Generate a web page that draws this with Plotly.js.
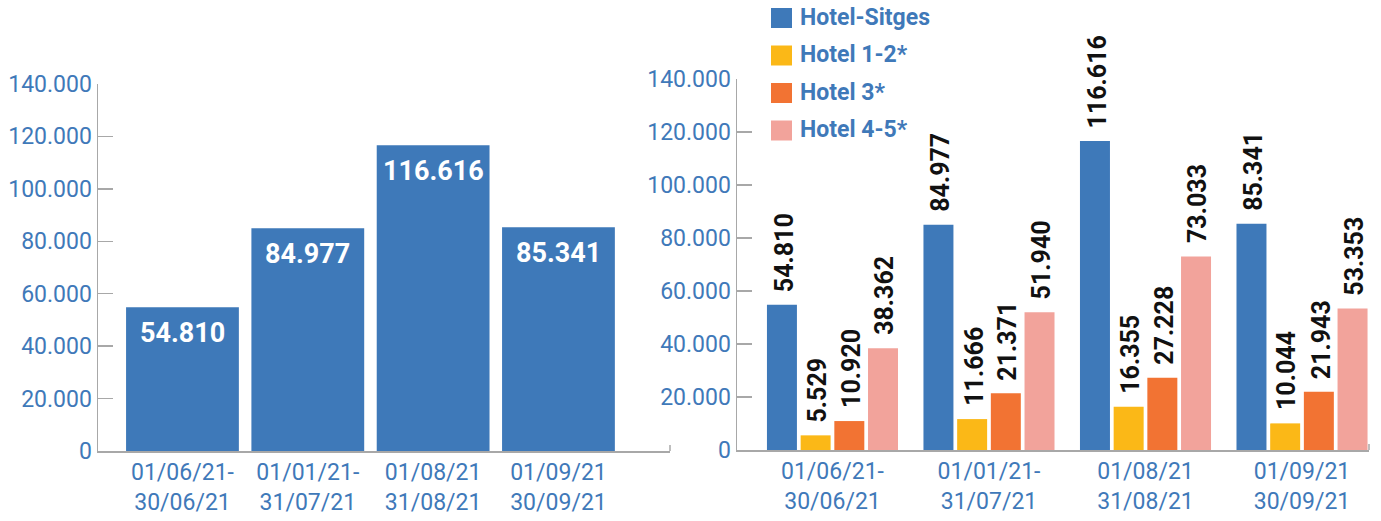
<!DOCTYPE html>
<html><head><meta charset="utf-8">
<script src="https://cdn.plot.ly/plotly-3.0.1.min.js"></script>
<style>html,body{margin:0;padding:0;background:#fff}#chart{width:1381px;height:521px}</style>
</head><body><div id="chart"></div>
<script>
// ---- data ----
const categories = ['01/06/21-<br>30/06/21', '01/01/21-<br>31/07/21', '01/08/21<br>31/08/21', '01/09/21<br>30/09/21'];
const totalValues = [54810, 84977, 116616, 85341];
const seriesNames = ['Hotel-Sitges', 'Hotel 1-2*', 'Hotel 3*', 'Hotel 4-5*'];
const hotelSitges = [54810, 84977, 116616, 85341];
const hotel12 = [5529, 11666, 16355, 10044];
const hotel3 = [10920, 21371, 27228, 21943];
const hotel45 = [38362, 51940, 73033, 53353];
const yTickVals = [0, 20000, 40000, 60000, 80000, 100000, 120000, 140000];

// ---- style ----
const W = 1381, H = 521;
const seriesColors = ['#3e79b9', '#fbb817', '#f27333', '#f2a39b'];
const blueText = '#3f79b9';
const axisGray = '#a8a8a8';
const FONT = 'Roboto, "Open Sans", sans-serif';
const BARGAP = 0.139, GROUPGAP = 0.11;

function fmt(v) { return String(v).replace(/\B(?=(\d{3})+(?!\d))/g, '.'); }

const seriesValues = [hotelSitges, hotel12, hotel3, hotel45];

const traces = [{
  type: 'bar', x: categories, y: totalValues, xaxis: 'x', yaxis: 'y',
  width: 0.9, offset: -0.45,
  marker: {color: seriesColors[0]}, showlegend: false, hoverinfo: 'skip'
}];
seriesValues.forEach((vals, j) => {
  traces.push({
    type: 'bar', name: seriesNames[j], x: categories, y: vals, xaxis: 'x2', yaxis: 'y2',
    marker: {color: seriesColors[j]}, showlegend: false, hoverinfo: 'skip'
  });
});

const annotations = [];
// left chart labels (inside bars)
totalValues.forEach((v, i) => {
  annotations.push({
    xref: 'x', yref: 'y', x: categories[i], y: v, yanchor: 'middle', yshift: -26,
    text: fmt(v), showarrow: false,
    font: {family: FONT, size: 27, color: '#ffffff', weight: 700}
  });
});
// right chart labels (rotated above bars)
const slot = (1 - BARGAP) / seriesValues.length;
seriesValues.forEach((vals, j) => {
  vals.forEach((v, i) => {
    annotations.push({
      xref: 'x2', yref: 'y2', x: i + (j - (seriesValues.length - 1) / 2) * slot, y: v,
      yanchor: 'bottom', xanchor: 'center', yshift: 11, xshift: 2, textangle: -90,
      text: fmt(v), showarrow: false,
      font: {family: FONT, size: 25, color: '#111111', weight: 700}
    });
  });
});
// legend
const legendTop = 18, legendStep = 37.5;
const shapes = [];
seriesNames.forEach((n, j) => {
  const yc = legendTop + j * legendStep;
  shapes.push({type: 'rect', xref: 'paper', yref: 'paper',
    x0: 771 / W, x1: 792 / W, y0: 1 - (yc + 10) / H, y1: 1 - (yc - 10) / H,
    fillcolor: seriesColors[j], line: {width: 0}});
  annotations.push({xref: 'paper', yref: 'paper', x: 798 / W, y: 1 - (yc - 1) / H,
    xanchor: 'left', yanchor: 'middle', text: n, showarrow: false,
    font: {family: FONT, size: 23, color: blueText, weight: 700}});
});
// end ticks on x axes
['x', 'x2'].forEach((ax, k) => {
  shapes.push({type: 'line', xref: ax + ' domain', x0: 1, x1: 1,
    yref: k === 0 ? 'y' : 'y2', ysizemode: 'pixel', yanchor: 0, y0: 0, y1: 6,
    line: {color: axisGray, width: 1.5}});
});

const xCommon = {
  type: 'category', showline: true, linecolor: axisGray, linewidth: 1.5,
  ticks: '', showgrid: false, zeroline: false, fixedrange: true,
  tickfont: {family: FONT, size: 23, color: blueText}
};
const yCommon = {
  range: [0, 140000], tickvals: yTickVals, tickformat: ',d',
  showline: true, linecolor: axisGray, linewidth: 1.5,
  ticks: 'inside', ticklen: 15, tickcolor: axisGray, tickwidth: 1.5,
  showgrid: false, zeroline: false, fixedrange: true,
  tickfont: {family: FONT, size: 23, color: blueText}
};

const layout = {
  width: W, height: H, separators: ',.',
  margin: {l: 0, r: 0, t: 0, b: 0},
  paper_bgcolor: '#ffffff', plot_bgcolor: '#ffffff',
  barmode: 'group', bargap: BARGAP, bargroupgap: GROUPGAP,
  showlegend: false,
  xaxis: Object.assign({}, xCommon, {domain: [98 / W, 670 / W], range: [-0.674, 3.890], anchor: 'y'}),
  yaxis: Object.assign({}, yCommon, {domain: [1 - 451 / H, 1 - 84 / H], anchor: 'x'}),
  xaxis2: Object.assign({}, xCommon, {domain: [737 / W, 1369 / W], range: [-0.610, 3.428], anchor: 'y2'}),
  yaxis2: Object.assign({}, yCommon, {domain: [1 - 450 / H, 1 - 79 / H], anchor: 'x2'}),
  annotations: annotations, shapes: shapes
};

Plotly.newPlot('chart', traces, layout, {staticPlot: true, displayModeBar: false});
</script></body></html>
